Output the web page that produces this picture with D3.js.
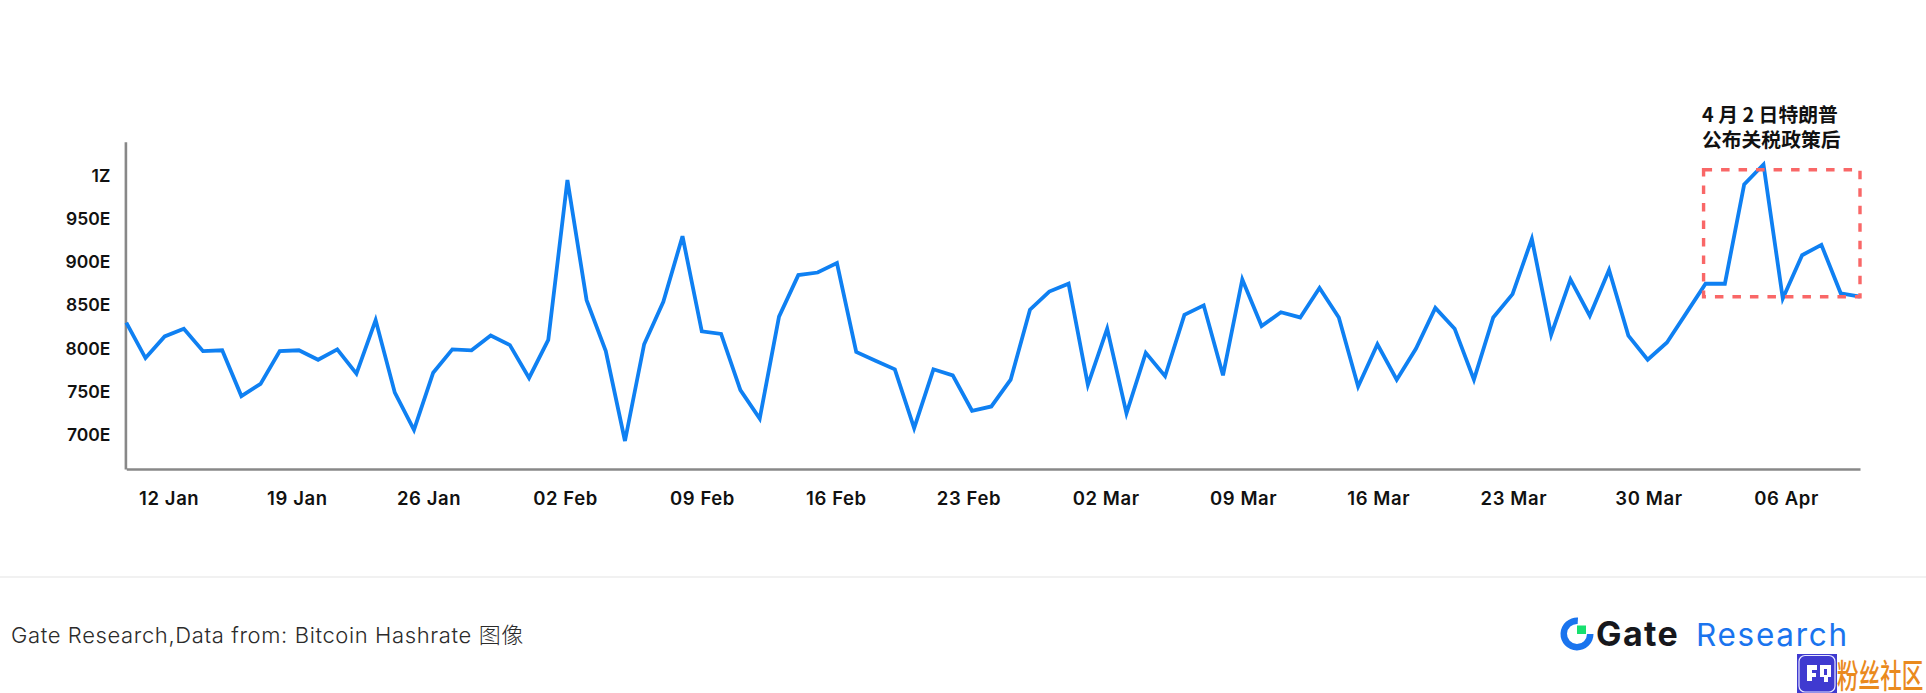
<!DOCTYPE html>
<html><head><meta charset="utf-8">
<script src="https://cdn.jsdelivr.net/npm/d3@7/dist/d3.min.js"></script>
<style>
html,body{margin:0;padding:0;background:#fff;overflow:hidden}
svg{display:block}
.tick text,.lab{font-family:Inter,"Noto Sans CJK SC",sans-serif}
</style></head><body>
<svg id="c" width="1926" height="693"></svg>
<script>
const startDate = "2025-01-10";
const hashrateE = [
830,789,814,823,797,798,745,759,797,798,787,799,771,833,749,706,772,799,798,815,804,766,810,995,856,797,693,805,
854,930,820,817,752,719,837,885,888,899,796,786,776,708,776,769,728,733,764,845,866,875,758,823,725,795,768,839,850,769,880,826,842,836,
870,836,756,805,764,800,847,823,764,836,863,927,816,880,838,891,815,787,807,841,875,875,990,1013,858,908,920,864,860
];
const xTickDates = ["2025-01-12","2025-01-19","2025-01-26","2025-02-02","2025-02-09","2025-02-16","2025-02-23","2025-03-02","2025-03-09","2025-03-16","2025-03-23","2025-03-30","2025-04-06"];
const yTickValues = [700,750,800,850,900,950,1000];
const yTickLabels = ["700E","750E","800E","850E","900E","950E","1Z"];
const annotationLines = ["4 月 2 日特朗普","公布关税政策后"];
const boxDates = ["2025-04-02","2025-04-10"];
const boxValues = [860,1007];
const footerText = "Gate Research,Data from: Bitcoin Hashrate 图像";

// layout only: small horizontal nudges of the date labels
const xLabelNudge = [4,-2,-4.6,-2.4,0.1,-1,-3.6,-1.5,0.8,0.8,0.8,0.8,3.3];

const parse = d3.utcParse("%Y-%m-%d");
const d0 = parse(startDate);
const data = hashrateE.map((v,i)=>({date:d3.utcDay.offset(d0,i),v}));
const svg = d3.select("#c");
const x = d3.scaleUtc()
  .domain([d0,d3.utcDay.offset(d0,29),d3.utcDay.offset(d0,58),d3.utcDay.offset(d0,hashrateE.length-1)])
  .range([126.3,682.5,1242.3,1860]);
const y = d3.scaleLinear().domain([660.6,1039.4]).range([469,141.7]);

// axes
const gx = svg.append("g").attr("transform","translate(0,469)")
  .call(d3.axisBottom(x).tickValues(xTickDates.map(parse)).tickFormat(d3.utcFormat("%d %b")).tickSize(0).tickPadding(0));
gx.selectAll(".tick text").attr("dx",(d,i)=>xLabelNudge[i]).attr("y",36).attr("dy",0)
  .attr("font-size",18.5).attr("font-weight",600).attr("letter-spacing",0.6).attr("fill","#111");
gx.select(".domain").attr("stroke","#888").attr("stroke-width",2.6);
const gy = svg.append("g").attr("transform","translate(125.4,0)")
  .call(d3.axisLeft(y).tickValues(yTickValues).tickFormat((d,i)=>yTickLabels[i]).tickSize(0).tickPadding(15));
gy.selectAll(".tick text").attr("font-size",17.5).attr("font-weight",600).attr("fill","#111");
gy.select(".domain").attr("stroke","#888").attr("stroke-width",2.6);

// line
svg.append("path").datum(data)
  .attr("fill","none").attr("stroke","#0f80f2").attr("stroke-width",3.8).attr("stroke-linejoin","miter")
  .attr("d",d3.line().x(d=>x(d.date)).y(d=>y(d.v)));

// annotation box
const bx0=x(parse(boxDates[0]))-2, bx1=x(parse(boxDates[1]));
svg.append("rect").attr("x",bx0).attr("y",y(boxValues[1])).attr("width",bx1-bx0).attr("height",y(boxValues[0])-y(boxValues[1]))
  .attr("fill","none").attr("stroke","#f96767").attr("stroke-width",3.4).attr("stroke-dasharray","8.5 9");
svg.selectAll("text.ann").data(annotationLines).join("text").attr("class","ann lab")
  .attr("x",1702).attr("y",(d,i)=>122+i*24.5).attr("font-size",19.8).attr("font-weight",700).attr("fill","#111")
  .style("font-family",'"Noto Sans CJK SC",sans-serif').text(d=>d);

// footer
svg.append("line").attr("x1",0).attr("x2",1926).attr("y1",577).attr("y2",577).attr("stroke","#ececec").attr("stroke-width",1.5);
svg.append("text").attr("class","lab").attr("x",11).attr("y",642.5).attr("font-size",22).attr("font-weight",300).attr("letter-spacing",0.62).attr("fill","#2b2b2b").text(footerText);

// logo
const logo = svg.append("g");
const arc = d3.arc().innerRadius(10).outerRadius(16.5).startAngle(Math.PI*0.5).endAngle(Math.PI*2.02);
logo.append("path").attr("transform","translate(1577,634)").attr("d",arc).attr("fill","#1a74ee");
logo.append("rect").attr("x",1577).attr("y",625.5).attr("width",9).attr("height",8.5).attr("fill","#17e06f");
logo.append("text").attr("class","lab").attr("x",1596).attr("y",646).attr("font-size",34).attr("font-weight",700).attr("letter-spacing",1.4).attr("fill","#16171c").text("Gate");
logo.append("text").attr("class","lab").attr("x",1696).attr("y",646).attr("font-size",31.5).attr("font-weight",400).attr("letter-spacing",1.7).attr("fill","#1a74ee").text("Research");

// watermark
const wm = svg.append("g");
wm.append("rect").attr("x",1797).attr("y",654).attr("width",40).attr("height",39).attr("fill","#3f3ad0");
wm.append("rect").attr("x",1799).attr("y",655.5).attr("width",36).attr("height",36.5).attr("rx",6).attr("fill","#3f3ad0").attr("stroke","#e8e8ff").attr("stroke-width",1.2);
[[1807,665,5,16],[1812,665,5,5],[1812,673,4,4],[1820,665,11,4],[1820,669,4,8],[1827,669,4,8],[1824,675,4,7]].forEach(r=>
  wm.append("rect").attr("x",r[0]).attr("y",r[1]).attr("width",r[2]).attr("height",r[3]).attr("fill","#fff"));
wm.append("text").attr("transform","translate(1837,688) scale(1,1.55)").attr("font-size",21.6).attr("font-weight",500)
  .attr("fill","#ea8a1e").style("font-family",'"Noto Sans CJK SC",sans-serif').text("粉丝社区");
</script></body></html>
